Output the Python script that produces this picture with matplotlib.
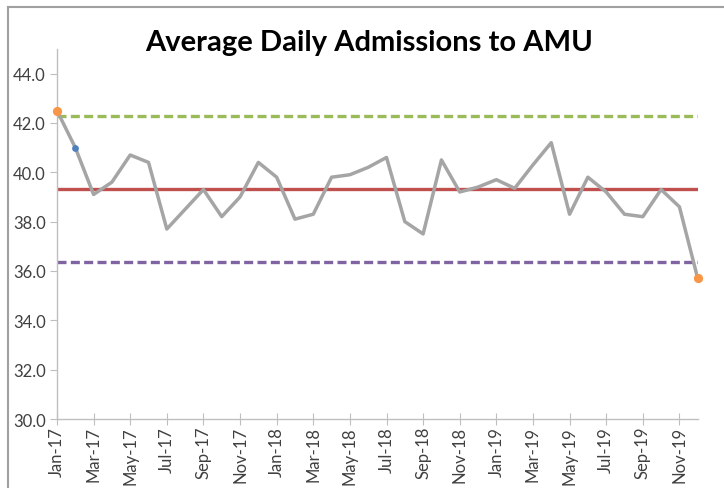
import matplotlib
matplotlib.use("Agg")
import matplotlib.pyplot as plt
import pandas as pd
from matplotlib.lines import Line2D

# monthly average daily admissions, Jan-17 .. Dec-19
months = pd.date_range("2017-01-01", periods=36, freq="MS").strftime("%b-%y").tolist()
admissions = [42.5, 41.0, 39.1, 39.6, 40.7, 40.4, 37.7, 38.5, 39.3, 38.2, 39.0, 40.4,
              39.8, 38.1, 38.3, 39.8, 39.9, 40.2, 40.6, 38.0, 37.5, 40.5, 39.2, 39.4,
              39.7, 39.35, 40.3, 41.2, 38.3, 39.8, 39.2, 38.3, 38.2, 39.3, 38.6, 35.7]
mean_line = 39.33
upper_limit = 42.27
lower_limit = 36.38
flag_idx = [0, 35]      # orange points
warn_idx = [1]          # blue point

plt.rcParams['font.family'] = ['Lato', 'DejaVu Sans']

fig = plt.figure(figsize=(7.24, 4.89), dpi=100)
ax = fig.add_axes([0.0787, 0.141, 0.885, 0.757])

x = list(range(len(months)))
ax.plot(x, [upper_limit] * len(x), color='#9BBB59', lw=2.4, dashes=(2.7, 1.3), zorder=2)
ax.plot(x, [lower_limit] * len(x), color='#8064A2', lw=2.4, dashes=(2.7, 1.3), zorder=2)
ax.plot(x, [mean_line] * len(x), color='#C0504D', lw=2.4, zorder=2)
ax.plot(x, admissions, color='#A5A5A5', lw=2.5, zorder=3)
ax.scatter([x[i] for i in flag_idx], [admissions[i] for i in flag_idx],
           s=44, color='#F79646', zorder=4, linewidths=0, clip_on=False)
ax.scatter([x[i] for i in warn_idx], [admissions[i] for i in warn_idx],
           s=24, color='#4F81BD', zorder=4, linewidths=0, clip_on=False)

ax.set_xlim(0, len(months) - 1)
ax.set_ylim(30, 45)
ax.set_yticks(range(30, 45, 2))
ax.set_yticklabels([f"{v:.1f}" for v in range(30, 45, 2)])
ax.set_xticks(x[::2])
ax.set_xticklabels(months[::2], rotation=90)

for side in ['top', 'right']:
    ax.spines[side].set_visible(False)
for side in ['left', 'bottom']:
    ax.spines[side].set_color('#BFBFBF')
    ax.spines[side].set_linewidth(1)
ax.tick_params(colors='#BFBFBF', labelcolor='#404040', labelsize=12, length=5)
ax.tick_params(axis='x', direction='inout', length=8, pad=1)
ax.tick_params(axis='y', pad=3)

fig.text(0.51, 0.912, "Average Daily Admissions to AMU", ha='center', va='center',
         fontsize=21, fontweight='bold', color='black')

# border of the original chart area (cropped on the right and bottom)
fig.add_artist(Line2D([8 / 724, 1], [1 - 8 / 489, 1 - 8 / 489], color='#A0A0A0', lw=1.5,
                      transform=fig.transFigure))
fig.add_artist(Line2D([8 / 724, 8 / 724], [0, 1 - 8 / 489], color='#A0A0A0', lw=1.5,
                      transform=fig.transFigure))

fig.savefig("out.png", dpi=100)
